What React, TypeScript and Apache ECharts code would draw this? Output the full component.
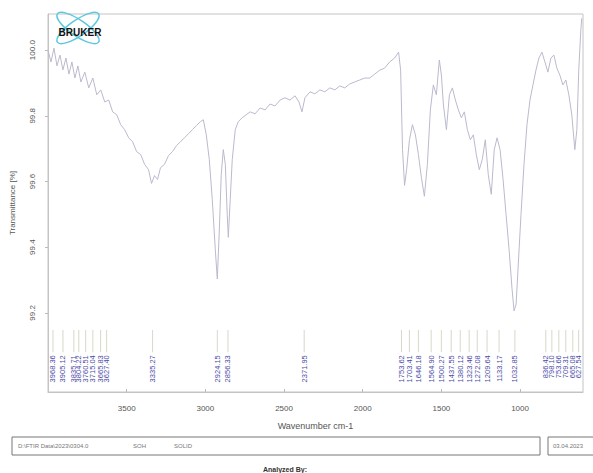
import React, { useEffect, useRef } from "react";
import * as echarts from "echarts";

const wavenumbers = [
  4000, 3981, 3962, 3943, 3924, 3905, 3886, 3867, 3848, 3829, 3810, 3791, 3766, 3741, 3715, 3690,
  3665, 3639, 3614, 3589, 3563, 3538, 3513, 3487, 3462, 3437, 3411, 3386, 3361, 3342, 3323, 3304,
  3285, 3260, 3234, 3209, 3184, 3158, 3133, 3108, 3082, 3057, 3032, 3013, 2994, 2975, 2956, 2937,
  2924, 2911, 2899, 2886, 2873, 2861, 2854, 2842, 2829, 2810, 2791, 2766, 2741, 2715, 2684, 2652,
  2620, 2589, 2557, 2525, 2494, 2462, 2430, 2405, 2386, 2367, 2335, 2304, 2272, 2241, 2209, 2177,
  2146, 2114, 2082, 2051, 2019, 1987, 1956, 1924, 1892, 1861, 1829, 1797, 1772, 1759, 1747, 1734,
  1721, 1703, 1684, 1665, 1646, 1627, 1608, 1589, 1570, 1551, 1532, 1513, 1500, 1487, 1468, 1449,
  1430, 1411, 1392, 1373, 1354, 1335, 1316, 1297, 1278, 1259, 1240, 1221, 1202, 1183, 1164, 1146,
  1127, 1108, 1089, 1070, 1051, 1038, 1025, 1013, 994, 975, 956, 937, 918, 899, 880, 861,
  842, 823, 804, 785, 766, 747, 728, 709, 690, 671, 652, 639, 627, 614, 608,
];

const transmittance = [
  100.0, 99.964, 100.006, 99.952, 99.985, 99.94, 99.976, 99.927, 99.964, 99.915, 99.952, 99.903, 99.933, 99.885, 99.915, 99.864,
  99.879, 99.842, 99.848, 99.812, 99.803, 99.773, 99.758, 99.733, 99.721, 99.691, 99.682, 99.652, 99.636, 99.594, 99.618, 99.606,
  99.642, 99.652, 99.679, 99.691, 99.709, 99.721, 99.733, 99.745, 99.758, 99.77, 99.782, 99.788, 99.742, 99.667, 99.545, 99.394,
  99.303, 99.455, 99.621, 99.697, 99.652, 99.5, 99.43, 99.545, 99.667, 99.758, 99.782, 99.794, 99.803, 99.812, 99.806, 99.824,
  99.818, 99.836, 99.83, 99.848, 99.855, 99.848, 99.861, 99.842, 99.812, 99.855, 99.873, 99.867, 99.879, 99.873, 99.885, 99.879,
  99.891, 99.885, 99.897, 99.903, 99.909, 99.915, 99.915, 99.927, 99.939, 99.945, 99.964, 99.976, 99.994, 99.939, 99.697, 99.588,
  99.636, 99.727, 99.773, 99.742, 99.682, 99.612, 99.555, 99.652, 99.818, 99.894, 99.864, 99.97, 99.924, 99.833, 99.758, 99.864,
  99.885, 99.848, 99.818, 99.794, 99.812, 99.758, 99.727, 99.742, 99.682, 99.636, 99.667, 99.727, 99.621, 99.561, 99.697, 99.733,
  99.697, 99.606, 99.5, 99.394, 99.273, 99.206, 99.227, 99.333, 99.5, 99.652, 99.773, 99.848, 99.894, 99.939, 99.976, 99.994,
  99.964, 99.933, 99.976, 99.985, 99.945, 99.924, 99.894, 99.909, 99.864, 99.803, 99.697, 99.758, 99.939, 100.06, 100.097,
];

const peakPositions = [
  3968.36, 3905.12, 3835.71, 3804.22, 3760.51, 3715.04, 3665.83, 3627.40, 3335.27, 2924.15, 2856.33, 2371.95,
  1753.62, 1703.41, 1646.18, 1564.90, 1500.27, 1437.55, 1380.12, 1323.46, 1272.08, 1209.64, 1133.17, 1032.85,
  836.42, 798.10, 753.66, 709.31, 665.08, 627.54,
];

const xTicks = [1000, 1500, 2000, 2500, 3000, 3500];
const yTicks = [99.2, 99.4, 99.6, 99.8, 100.0];

export default function App() {
  const ref = useRef<HTMLDivElement>(null);
  useEffect(() => {
    if (!ref.current) return;
    const chart = echarts.init(ref.current, null, { renderer: "svg" });
    const lineData = wavenumbers.map((w, i) => [w, transmittance[i]]);
    chart.setOption({
      animation: false,
      backgroundColor: "#ffffff",
      grid: { left: 47, right: 10, top: 14, bottom: 81, show: true, borderColor: "#c4c4c4", borderWidth: 1 },
      xAxis: {
        type: "value",
        min: 600,
        max: 4000,
        inverse: true,
        name: "Wavenumber cm-1",
        nameLocation: "middle",
        nameGap: 29,
        nameTextStyle: { color: "#555", fontSize: 9, fontFamily: "Liberation Sans" },
        axisLine: { show: true, lineStyle: { color: "#c4c4c4" } },
        axisTick: { show: true, customValues: xTicks, length: 3, inside: true, lineStyle: { color: "#bbb" } },
        axisLabel: {
          customValues: xTicks,
          color: "#555",
          fontSize: 8,
          margin: 12,
          fontFamily: "Liberation Sans",
          formatter: (v: number) => String(v),
        },
        splitLine: { show: false },
      },
      yAxis: {
        type: "value",
        min: 98.959,
        max: 100.11,
        name: "Transmittance [%]",
        nameLocation: "middle",
        nameGap: 32,
        nameTextStyle: { color: "#555", fontSize: 8, fontFamily: "Liberation Sans" },
        axisLine: { show: true, lineStyle: { color: "#c4c4c4" } },
        axisTick: { show: true, customValues: yTicks, length: 3, lineStyle: { color: "#bbb" } },
        axisLabel: {
          customValues: yTicks,
          rotate: 90,
          color: "#555",
          fontSize: 8,
          margin: 12,
          fontFamily: "Liberation Sans",
          formatter: (v: number) => v.toFixed(1),
        },
        splitLine: { show: false },
      },
      series: [
        {
          type: "line",
          data: lineData,
          symbol: "none",
          lineStyle: { width: 1, color: "#babace" },
        },
        {
          type: "custom",
          data: peakPositions.map((p) => [p]),
          renderItem: (params: any, api: any) => {
            const w = api.value(0);
            const p1 = api.coord([w, 99.148]);
            const p2 = api.coord([w, 99.08]);
            return {
              type: "group",
              children: [
                {
                  type: "line",
                  shape: { x1: p1[0], y1: p1[1], x2: p2[0], y2: p2[1] },
                  style: { stroke: "#d8d8c8", lineWidth: 1 },
                },
                {
                  type: "text",
                  x: p2[0],
                  y: p2[1] + 3,
                  rotation: Math.PI / 2,
                  style: {
                    text: w.toFixed(2),
                    fill: "#4a4aa6",
                    font: "7.5px Liberation Sans",
                    align: "right",
                    verticalAlign: "middle",
                  },
                },
              ],
            };
          },
        },
      ],
      graphic: [
        { type: "ellipse", shape: { cx: 0, cy: 0, rx: 25, ry: 8 }, x: 78, y: 28, rotation: 0.6, style: { fill: "none", stroke: "#5cc8dc", lineWidth: 1.5 } },
        { type: "ellipse", shape: { cx: 0, cy: 0, rx: 25, ry: 8 }, x: 78, y: 28, rotation: -0.6, style: { fill: "none", stroke: "#5cc8dc", lineWidth: 1.5 } },
        { type: "text", x: 80, y: 32, style: { text: "BRUKER", fill: "#111", font: "bold 10px Liberation Sans", align: "center", verticalAlign: "middle" } },
        { type: "rect", shape: { x: 12, y: 437, width: 528, height: 18 }, style: { fill: "#fff", stroke: "#777", lineWidth: 1 } },
        { type: "text", x: 18, y: 446, style: { text: "D:\\FTIR Data\\2023\\0304.0", fill: "#777", font: "6px Liberation Sans", verticalAlign: "middle" } },
        { type: "text", x: 133, y: 446, style: { text: "SOH", fill: "#777", font: "6px Liberation Sans", verticalAlign: "middle" } },
        { type: "text", x: 174, y: 446, style: { text: "SOLID", fill: "#777", font: "6px Liberation Sans", verticalAlign: "middle" } },
        { type: "rect", shape: { x: 548, y: 437, width: 48, height: 18 }, style: { fill: "#fff", stroke: "#777", lineWidth: 1 } },
        { type: "text", x: 553, y: 446, style: { text: "03.04.2023", fill: "#777", font: "6px Liberation Sans", verticalAlign: "middle" } },
        { type: "text", x: 285, y: 469, style: { text: "Analyzed By:", fill: "#333", font: "bold 7px Liberation Sans", align: "center", verticalAlign: "middle" } },
      ],
    });
    return () => chart.dispose();
  }, []);
  return <div ref={ref} style={{ width: 593, height: 473, position: "absolute", left: 0, top: 0 }} />;
}
